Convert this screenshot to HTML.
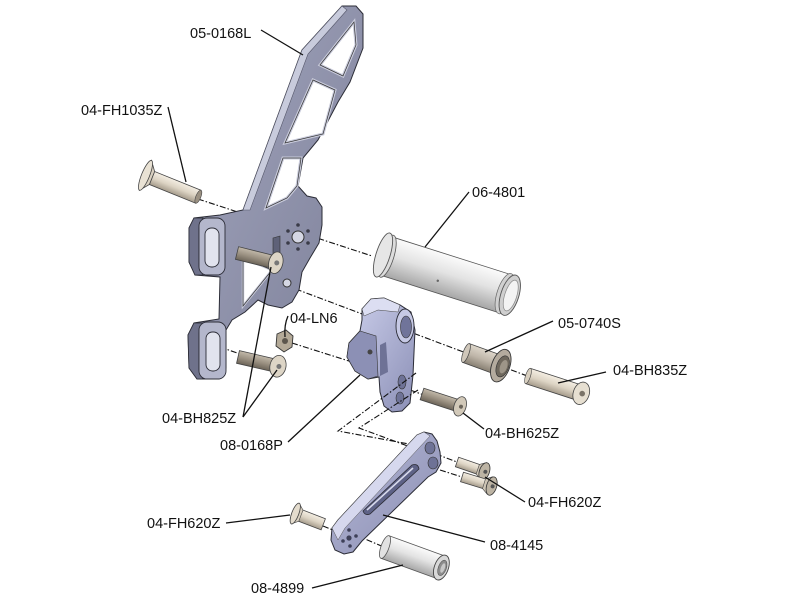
<!DOCTYPE html>
<html><head><meta charset="utf-8"><style>
html,body{margin:0;padding:0;background:#fff;}
svg{display:block;}
text{font-family:"Liberation Sans",Arial,sans-serif;font-size:14.5px;fill:#111;}
</style></head><body>
<svg width="800" height="600" viewBox="0 0 800 600" xmlns="http://www.w3.org/2000/svg">
<defs>
<linearGradient id="gBolt" x1="0" y1="0" x2="0" y2="1"><stop offset="0" stop-color="#f4eee3"/><stop offset="0.5" stop-color="#dcd3c3"/><stop offset="1" stop-color="#a59b8b"/></linearGradient>
<linearGradient id="gBoltD" x1="0" y1="0" x2="0" y2="1"><stop offset="0" stop-color="#c2b9aa"/><stop offset="0.5" stop-color="#9b9182"/><stop offset="1" stop-color="#6c6458"/></linearGradient>
<linearGradient id="gPipe" x1="0" y1="0" x2="0" y2="1"><stop offset="0" stop-color="#fbfbfb"/><stop offset="0.45" stop-color="#e3e3e3"/><stop offset="1" stop-color="#a6a6a6"/></linearGradient>
<linearGradient id="gSpacer" x1="0" y1="0" x2="0" y2="1"><stop offset="0" stop-color="#ddd6ca"/><stop offset="0.5" stop-color="#beb5a8"/><stop offset="1" stop-color="#877f72"/></linearGradient>
<linearGradient id="gBr" x1="0" y1="0" x2="1" y2="1"><stop offset="0" stop-color="#a3a6be"/><stop offset="1" stop-color="#7c7f98"/></linearGradient>
<linearGradient id="gBlock" x1="0" y1="0" x2="1" y2="1"><stop offset="0" stop-color="#cdd0ec"/><stop offset="1" stop-color="#8b8fb6"/></linearGradient>
<linearGradient id="gLever" x1="0" y1="0" x2="1" y2="1"><stop offset="0" stop-color="#b6b9d8"/><stop offset="1" stop-color="#8a8db1"/></linearGradient>
</defs>
<rect width="800" height="600" fill="#fff"/>

<!-- center lines (behind) -->
<g stroke="#111" stroke-width="1.1" fill="none" stroke-dasharray="6 2 1.5 2">
<path d="M198,199 L372,256"/>
<path d="M285,285 L530,377"/>
<path d="M292,343 L352,362"/>
<path d="M220,347 L240,354"/>
<path d="M410,390 L424,395"/>
<path d="M323,526 L340,533"/>
<path d="M356,535 L386,548"/>
<path d="M436,454 L457,462"/>
<path d="M440,470 L462,477"/>
</g>

<!-- bracket 05-0168L -->
<path d="M342,6 L356,6 L363,14 L363,48 L350,82 L338,102 L318,140 L303,158 L298,186 L307,196 L316,198 L322,207 L322,225 L319,243 L310,258 L302,272 L299,290 L292,302 L282,308 L268,305 L258,300 L245,312 L232,320 L226,330 L226,368 L219,379 L197,379 L189,368 L188,335 L194,323 L219,319 L220,277 L195,275 L189,262 L189,228 L194,218 L220,215 L243,210 L302,50 Z" fill="url(#gBr)" stroke="#2b2c36" stroke-width="1"/>
<polygon points="243,210 302,50 342,6 347,10 308,54 250,210" fill="#c8cbdc" stroke="#55576a" stroke-width="0.6"/>
<polygon points="320,65 354,22 356,45 343,76" fill="#fff" stroke="#c9cbdb" stroke-width="3"/>
<polygon points="320,65 354,22 356,45 343,76" fill="none" stroke="#333" stroke-width="0.7"/>
<polygon points="313,80 335,90 323,134 285,143" fill="#fff" stroke="#c9cbdb" stroke-width="3"/>
<polygon points="313,80 335,90 323,134 285,143" fill="none" stroke="#333" stroke-width="0.7"/>
<polygon points="283,158 301,158 297,186 287,198 266,208" fill="#fff" stroke="#c9cbdb" stroke-width="3"/>
<polygon points="283,158 301,158 297,186 287,198 266,208" fill="none" stroke="#333" stroke-width="0.7"/>
<polygon points="243,258 272,270 243,306" fill="#fff" stroke="#c9cbdb" stroke-width="2.5"/>
<polygon points="243,258 272,270 243,306" fill="none" stroke="#333" stroke-width="0.7"/>
<!-- plate holes -->
<circle cx="298" cy="237" r="6" fill="#d5d7e4" stroke="#333" stroke-width="1"/>
<g fill="#3a3b48"><circle cx="298" cy="225" r="1.8"/><circle cx="308" cy="231" r="1.8"/><circle cx="308" cy="243" r="1.8"/><circle cx="298" cy="249" r="1.8"/><circle cx="288" cy="243" r="1.8"/><circle cx="288" cy="231" r="1.8"/></g>
<circle cx="287" cy="283" r="4" fill="#d5d7e4" stroke="#333" stroke-width="1"/>
<path d="M273,238 L280,236 L280,253 L273,255 Z" fill="#5e6178" stroke="#333" stroke-width="0.6"/>
<!-- upper boss -->
<path d="M189,228 L194,218 L203,218 L199,228 L199,266 L203,275 L195,275 L189,262 Z" fill="#6f728b" stroke="#2b2c36" stroke-width="0.8"/>
<rect x="199" y="218" width="26" height="57" rx="8" fill="#b4b7cc" stroke="#2b2c36" stroke-width="0.9"/>
<rect x="205" y="228" width="14" height="39" rx="6.5" fill="#e1e3ee" stroke="#2b2c36" stroke-width="0.9"/>
<!-- lower boss -->
<path d="M188,335 L194,323 L203,323 L199,333 L199,370 L203,379 L197,379 L189,368 Z" fill="#6f728b" stroke="#2b2c36" stroke-width="0.8"/>
<rect x="199" y="322" width="27" height="57" rx="8" fill="#b4b7cc" stroke="#2b2c36" stroke-width="0.9"/>
<rect x="206" y="332" width="14" height="39" rx="6.5" fill="#e1e3ee" stroke="#2b2c36" stroke-width="0.9"/>

<!-- bolt 04-FH1035Z -->
<g transform="translate(152,178) rotate(22)">
<rect x="0" y="-7" width="50" height="14" fill="url(#gBolt)" stroke="#444" stroke-width="0.8"/>
<polygon points="-7,-16 0,-7 0,7 -7,16" fill="#d9d0c0" stroke="#444" stroke-width="0.8"/>
<ellipse cx="-7" cy="0" rx="4" ry="16" fill="#e9e2d4" stroke="#444" stroke-width="0.8"/>
<ellipse cx="50" cy="0" rx="2.5" ry="7" fill="#9b9182" stroke="#444" stroke-width="0.6"/>
</g>

<!-- bolts 04-BH825Z -->
<g transform="translate(237,253) rotate(14)">
<rect x="0" y="-6.5" width="36" height="13" fill="url(#gBoltD)" stroke="#444" stroke-width="0.8"/>
<ellipse cx="40" cy="0" rx="7" ry="11" fill="#ddd5c6" stroke="#444" stroke-width="0.8"/>
<circle cx="41" cy="0" r="2.5" fill="#777"/>
</g>
<g transform="translate(238,357) rotate(13)">
<rect x="0" y="-6.5" width="36" height="13" fill="url(#gBoltD)" stroke="#444" stroke-width="0.8"/>
<ellipse cx="41" cy="0" rx="8" ry="11" fill="#ddd5c6" stroke="#444" stroke-width="0.8"/>
<circle cx="42" cy="0" r="2.5" fill="#777"/>
</g>
<!-- nut 04-LN6 -->
<polygon points="277,334 286,330 293,336 292,347 284,352 276,346" fill="#b4aa98" stroke="#333" stroke-width="0.9"/>
<circle cx="285" cy="341" r="3" fill="#5c564d"/>

<!-- pipe 06-4801 -->
<g transform="translate(383,255) rotate(17.6)">
<rect x="0" y="-20" width="133" height="40" fill="url(#gPipe)" stroke="#555" stroke-width="0.8"/>
<ellipse cx="4" cy="0" rx="7" ry="22" fill="#dcdcdc" stroke="#555" stroke-width="0.8"/>
<ellipse cx="0" cy="0" rx="7" ry="23" fill="#e6e6e6" stroke="#555" stroke-width="0.9"/>
<ellipse cx="128" cy="0" rx="8" ry="21" fill="#d0d0d0" stroke="#666" stroke-width="0.7"/>
<ellipse cx="133" cy="0" rx="9" ry="21" fill="#cfcfcf" stroke="#555" stroke-width="0.9"/>
<ellipse cx="134" cy="0" rx="6" ry="16" fill="#f3f3f3" stroke="#888" stroke-width="0.7"/>
<circle cx="60" cy="8" r="1.2" fill="#666"/>
</g>

<!-- pivot block 08-0168P -->
<path d="M362,309 L371,299 L384,298 L400,305 L411,312 L415,330 L413,375 L410,403 L402,411 L392,412 L384,406 L380,392 L379,377 L368,379 L355,371 L347,357 L349,343 L360,331 L362,320 Z" fill="url(#gBlock)" stroke="#2b2c36" stroke-width="1"/>
<path d="M371,299 L384,298 L400,305 L398,312 L378,310 L364,316 L362,309 Z" fill="#dcdef2" stroke="#444" stroke-width="0.5"/>
<path d="M349,343 L360,331 L376,336 L378,376 L368,379 L355,371 L347,357 Z" fill="#8c90b5" stroke="#333" stroke-width="0.6"/>
<ellipse cx="405" cy="326" rx="9" ry="17" fill="#c6c9e5" stroke="#2b2c36" stroke-width="0.9"/>
<ellipse cx="406" cy="327" rx="5.5" ry="11" fill="#70749a" stroke="#333" stroke-width="0.6"/>
<path d="M380,376 L380,345 L386,342 L388,372 Z" fill="#6e7296"/>
<ellipse cx="402" cy="382" rx="4" ry="7" fill="#6e7296" stroke="#333" stroke-width="0.6"/>
<ellipse cx="400" cy="398" rx="4" ry="6" fill="#6e7296" stroke="#333" stroke-width="0.6"/>
<circle cx="370" cy="352" r="2.5" fill="#444"/>

<!-- lines over block -->
<g stroke="#111" stroke-width="1.1" fill="none" stroke-dasharray="6 2 1.5 2">
<path d="M416,373 L338,431 L420,446"/>
<path d="M418,390 L359,428 L440,458"/>
</g>

<!-- spacer 05-0740S -->
<g transform="translate(466,353) rotate(20)">
<rect x="0" y="-10" width="36" height="20" fill="url(#gSpacer)" stroke="#444" stroke-width="0.8"/>
<ellipse cx="0" cy="0" rx="3" ry="10" fill="#cfc7ba" stroke="#444" stroke-width="0.7"/>
<ellipse cx="37" cy="0" rx="9" ry="17" fill="#b4ab9e" stroke="#333" stroke-width="0.9"/>
<ellipse cx="39" cy="0" rx="6" ry="11" fill="#6f685d" stroke="#333" stroke-width="0.6"/>
<ellipse cx="40" cy="0" rx="3.5" ry="7" fill="#9d9588"/>
</g>

<!-- bolt 04-BH835Z -->
<g transform="translate(528,376) rotate(18)">
<rect x="0" y="-8" width="50" height="16" fill="url(#gBolt)" stroke="#444" stroke-width="0.8"/>
<ellipse cx="0" cy="0" rx="2.5" ry="8" fill="#d8cfbf" stroke="#444" stroke-width="0.6"/>
<ellipse cx="56" cy="0" rx="8" ry="11.5" fill="#e6dfd1" stroke="#444" stroke-width="0.8"/>
<circle cx="57" cy="0" r="2.8" fill="#7a7368"/>
</g>

<!-- bolt 04-BH625Z -->
<g transform="translate(422,394) rotate(18)">
<rect x="0" y="-6" width="36" height="12" fill="url(#gBoltD)" stroke="#444" stroke-width="0.8"/>
<ellipse cx="40" cy="0" rx="6" ry="10" fill="#d2c9b9" stroke="#444" stroke-width="0.8"/>
<circle cx="41" cy="0" r="2" fill="#6a645a"/>
</g>

<!-- lever 08-4145 -->
<path d="M338,520 L417,435 L424,432 L432,434 L437,441 L440,452 L441,463 L436,472 L428,477 L362,541 L353,552 L344,554 L335,550 L331,540 L332,528 Z" fill="url(#gLever)" stroke="#2b2c36" stroke-width="1"/>
<polygon points="332,528 338,520 417,435 424,432 430,436 345,528 338,540" fill="#d6d8ee" stroke="#555" stroke-width="0.5"/>
<path d="M363,511 L412,465 Q418,463 419,469 L370,514 Q365,516 363,511 Z" fill="#5e6286" stroke="#2b2c36" stroke-width="0.8"/>
<path d="M367,510 L413,468" stroke="#d8daec" stroke-width="1.6" fill="none"/>
<ellipse cx="430" cy="448" rx="5" ry="6" fill="#6e7296" stroke="#333" stroke-width="0.6"/>
<ellipse cx="433" cy="463" rx="5" ry="6" fill="#6e7296" stroke="#333" stroke-width="0.6"/>
<g fill="#3e4058"><circle cx="349" cy="530" r="1.8"/><circle cx="356" cy="536" r="1.8"/><circle cx="343" cy="541" r="1.8"/><circle cx="350" cy="546" r="1.8"/><circle cx="349" cy="538" r="2.6"/></g>

<!-- bolts 04-FH620Z right -->
<g transform="translate(457,462) rotate(19)">
<rect x="0" y="-5" width="26" height="10" fill="url(#gBolt)" stroke="#444" stroke-width="0.8"/>
<polygon points="22,-5 28,-9 28,9 22,5" fill="#cfc6b6" stroke="#444" stroke-width="0.6"/>
<ellipse cx="29" cy="0" rx="5" ry="9" fill="#bdb4a4" stroke="#333" stroke-width="0.8"/>
<circle cx="30" cy="0" r="2" fill="#555"/>
</g>
<g transform="translate(462,477) rotate(17)">
<rect x="0" y="-5" width="27" height="10" fill="url(#gBolt)" stroke="#444" stroke-width="0.8"/>
<polygon points="23,-5 29,-9 29,9 23,5" fill="#cfc6b6" stroke="#444" stroke-width="0.6"/>
<ellipse cx="31" cy="0" rx="5" ry="9.5" fill="#bdb4a4" stroke="#333" stroke-width="0.8"/>
<circle cx="32" cy="0" r="2" fill="#555"/>
</g>

<!-- bolt 04-FH620Z left -->
<g transform="translate(299,515) rotate(21)">
<rect x="0" y="-6" width="26" height="12" fill="url(#gBolt)" stroke="#444" stroke-width="0.8"/>
<polygon points="-4,-11 2,-6 2,6 -4,11" fill="#d9d0c0" stroke="#444" stroke-width="0.6"/>
<ellipse cx="-4" cy="0" rx="3.5" ry="11" fill="#e4dccd" stroke="#444" stroke-width="0.8"/>
</g>

<!-- cylinder 08-4899 -->
<g transform="translate(385,547) rotate(20)">
<rect x="0" y="-12" width="60" height="24" fill="url(#gPipe)" stroke="#555" stroke-width="0.8"/>
<ellipse cx="0" cy="0" rx="4" ry="12" fill="#e2e2e2" stroke="#555" stroke-width="0.8"/>
<ellipse cx="60" cy="0" rx="7" ry="13" fill="#d8d8d8" stroke="#444" stroke-width="0.9"/>
<ellipse cx="61" cy="0" rx="4" ry="8" fill="#8d8d8d" stroke="#555" stroke-width="0.6"/>
<ellipse cx="61.5" cy="0" rx="2" ry="5" fill="#c8c8c8"/>
</g>

<!-- leader lines -->
<g stroke="#111" stroke-width="1.3" fill="none">
<path d="M261,30 L303,55"/>
<path d="M168,107 L186,182"/>
<path d="M469,192 L425,247"/>
<path d="M288,316 Q284,325 285,337"/>
<path d="M553,321 L485,352"/>
<path d="M606,372 L558,383"/>
<path d="M243,417 L271,267"/>
<path d="M243,417 L277,370"/>
<path d="M288,442 L360,375"/>
<path d="M484,429 L463,413"/>
<path d="M525,502 L485,477"/>
<path d="M226,523 L290,515"/>
<path d="M485,542 L383,515"/>
<path d="M312,588 L403,565"/>
</g>

<!-- labels -->
<text x="190" y="38">05-0168L</text>
<text x="81" y="115">04-FH1035Z</text>
<text x="472" y="197">06-4801</text>
<text x="290" y="323">04-LN6</text>
<text x="558" y="328">05-0740S</text>
<text x="613" y="375">04-BH835Z</text>
<text x="162" y="423">04-BH825Z</text>
<text x="220" y="450">08-0168P</text>
<text x="485" y="438">04-BH625Z</text>
<text x="528" y="507">04-FH620Z</text>
<text x="147" y="528">04-FH620Z</text>
<text x="490" y="550">08-4145</text>
<text x="251" y="593">08-4899</text>
</svg>
</body></html>
